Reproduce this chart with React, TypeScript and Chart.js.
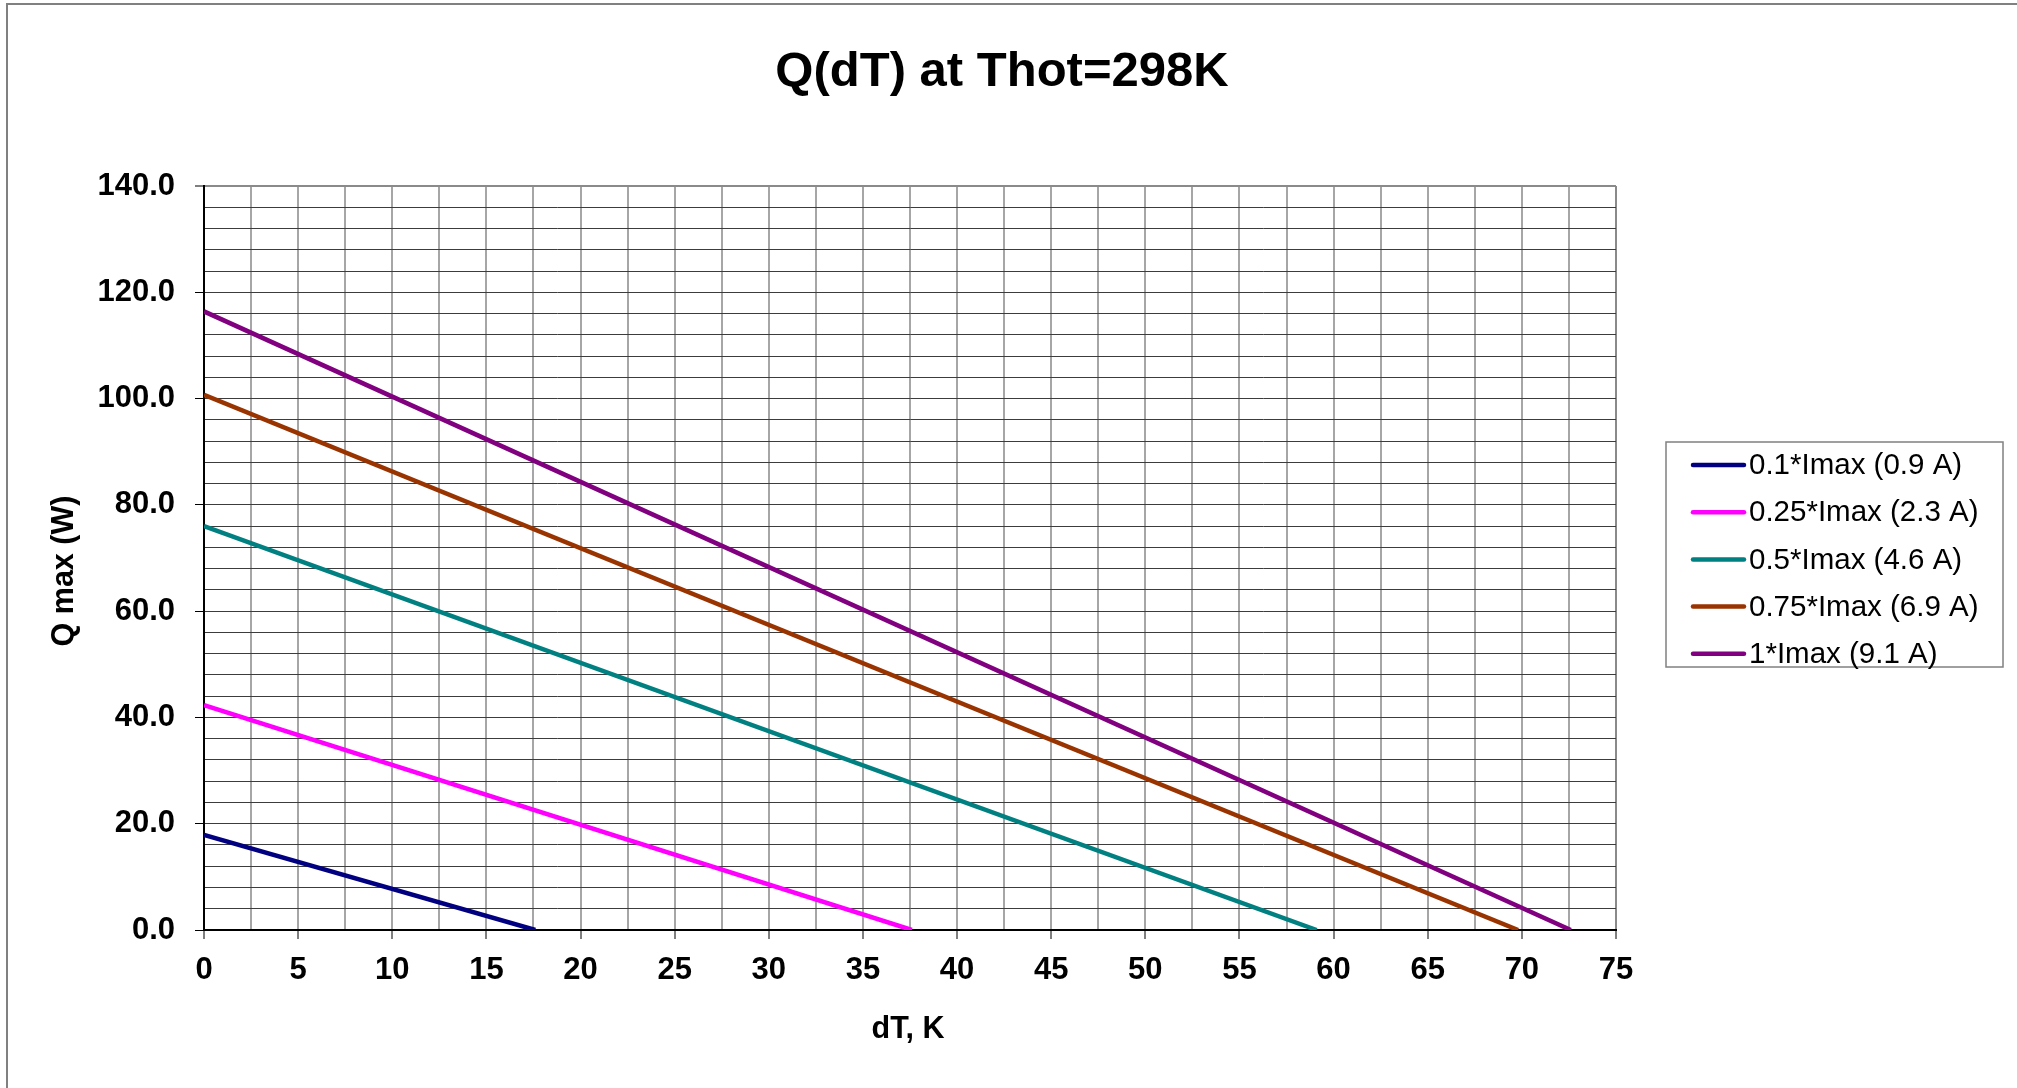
import React, { useEffect, useRef } from 'react';
import { Chart, registerables } from 'chart.js';

Chart.register(...registerables);

const FONT = '"Liberation Sans", Arial, sans-serif';

const chartTitle = 'Q(dT) at Thot=298K';
const xAxisTitle = 'dT, K';
const yAxisTitle = 'Q max (W)';

const seriesLabels = [
  '0.1*Imax (0.9 A)',
  '0.25*Imax (2.3 A)',
  '0.5*Imax (4.6 A)',
  '0.75*Imax (6.9 A)',
  '1*Imax (9.1 A)',
];
const seriesColors = ['#000080', '#FF00FF', '#008080', '#993300', '#800080'];

// dT (K) and Q max (W) for each series
const dT_01 = [0, 17.6];
const Q_01 = [17.9, 0];
const dT_025 = [0, 37.6];
const Q_025 = [42.3, 0];
const dT_05 = [0, 59.1];
const Q_05 = [76.0, 0];
const dT_075 = [0, 69.8];
const Q_075 = [100.7, 0];
const dT_1 = [0, 72.6];
const Q_1 = [116.4, 0];

const seriesDT = [dT_01, dT_025, dT_05, dT_075, dT_1];
const seriesQ = [Q_01, Q_025, Q_05, Q_075, Q_1];

const xMajorValues = [0, 5, 10, 15, 20, 25, 30, 35, 40, 45, 50, 55, 60, 65, 70, 75];
const xTickLabels = ['0', '5', '10', '15', '20', '25', '30', '35', '40', '45', '50', '55', '60', '65', '70', '75'];
const yMajorValues = [0, 20, 40, 60, 80, 100, 120, 140];
const yTickLabels = ['0.0', '20.0', '40.0', '60.0', '80.0', '100.0', '120.0', '140.0'];

const findIdx = (arr: number[], v: number) => arr.findIndex((m) => Math.abs(m - v) < 1e-6);

const decorPlugin = {
  id: 'decor',
  afterDraw(chart: any) {
    const ctx = chart.ctx as CanvasRenderingContext2D;
    ctx.save();
    // outer border
    ctx.strokeStyle = '#808080';
    ctx.lineWidth = 2;
    ctx.strokeRect(7, 4, 2030, 1100);

    ctx.fillStyle = '#000';
    // title
    ctx.font = `bold 49px ${FONT}`;
    ctx.textAlign = 'center';
    ctx.textBaseline = 'middle';
    ctx.fillText(chartTitle, 1002, 72);

    // x axis title
    ctx.font = `bold 30.5px ${FONT}`;
    ctx.fillText(xAxisTitle, 908, 1030);

    // y axis title
    ctx.save();
    ctx.translate(65, 571);
    ctx.rotate(-Math.PI / 2);
    ctx.fillText(yAxisTitle, 0, 0);
    ctx.restore();

    // legend
    const bx = 1666, by = 442, bw = 337, bh = 225;
    ctx.strokeStyle = '#808080';
    ctx.lineWidth = 1.5;
    ctx.strokeRect(bx, by, bw, bh);
    const rowY0 = 465;
    const rowStep = 47.2;
    ctx.font = `29.5px ${FONT}`;
    ctx.textAlign = 'left';
    chart.data.datasets.forEach((ds: any, i: number) => {
      const y = rowY0 + i * rowStep;
      ctx.strokeStyle = ds.borderColor;
      ctx.lineWidth = 4.5;
      ctx.lineCap = 'round';
      ctx.beginPath();
      ctx.moveTo(1693, y);
      ctx.lineTo(1744, y);
      ctx.stroke();
      ctx.fillStyle = '#000';
      ctx.fillText(ds.label, 1749, y + 1);
    });
    ctx.restore();
  },
};

export default function App() {
  const canvasRef = useRef<HTMLCanvasElement | null>(null);

  useEffect(() => {
    if (!canvasRef.current) return;
    const datasets = seriesLabels.map((label, i) => ({
      label,
      data: seriesDT[i].map((x, j) => ({ x, y: seriesQ[i][j] })),
      borderColor: seriesColors[i],
      backgroundColor: seriesColors[i],
      borderWidth: 4.5,
      pointRadius: 0,
      tension: 0,
      fill: false,
    }));

    const chart = new Chart(canvasRef.current, {
      type: 'line',
      data: { datasets },
      plugins: [decorPlugin],
      options: {
        responsive: false,
        animation: false,
        devicePixelRatio: 1,
        parsing: false as any,
        layout: { padding: { left: 0, top: 186, right: 401, bottom: 0 } },
        plugins: {
          legend: { display: false },
          title: { display: false },
          tooltip: { enabled: false },
        },
        scales: {
          x: {
            type: 'linear',
            min: 0,
            max: 75,
            afterFit: (s: any) => {
              s.height = 158;
            },
            ticks: {
              stepSize: 2.5,
              autoSkip: false,
              maxRotation: 0,
              minRotation: 0,
              padding: 13,
              color: '#000',
              font: { family: FONT, size: 31, weight: 'bold' },
              callback: (v: any) => {
                const i = findIdx(xMajorValues, Number(v));
                return i >= 0 ? xTickLabels[i] : '';
              },
            },
            grid: {
              color: (c: any) => (c.tick && Math.abs(c.tick.value - 75) < 1e-6 ? '#8a8a8a' : '#a6a6a6'),
              lineWidth: 2,
              tickLength: 9,
              tickWidth: 1,
              tickColor: (c: any) => (c.tick && findIdx(xMajorValues, c.tick.value) >= 0 ? '#000' : 'rgba(0,0,0,0)'),
            },
            border: { color: '#000', width: 2 },
          },
          y: {
            type: 'linear',
            min: 0,
            max: 140,
            afterFit: (s: any) => {
              s.width = 204;
            },
            ticks: {
              stepSize: 4,
              autoSkip: false,
              padding: 20,
              color: '#000',
              font: { family: FONT, size: 31, weight: 'bold' },
              callback: (v: any) => {
                const i = findIdx(yMajorValues, Number(v));
                return i >= 0 ? yTickLabels[i] : '';
              },
            },
            grid: {
              color: (c: any) => (c.tick && Math.abs(c.tick.value - 140) < 1e-6 ? '#8a8a8a' : '#3c3c3c'),
              lineWidth: (c: any) => (c.tick && Math.abs(c.tick.value - 140) < 1e-6 ? 2 : 1),
              tickLength: 9,
              tickWidth: 1,
              tickColor: (c: any) => (c.tick && findIdx(yMajorValues, c.tick.value) >= 0 ? '#000' : 'rgba(0,0,0,0)'),
            },
            border: { color: '#000', width: 2 },
          },
        },
      } as any,
    });
    return () => chart.destroy();
  }, []);

  return (
    <div style={{ position: 'absolute', left: 0, top: 0, width: 2017, height: 1088, background: '#fff' }}>
      <canvas ref={canvasRef} width={2017} height={1088} style={{ display: 'block' }} />
    </div>
  );
}
